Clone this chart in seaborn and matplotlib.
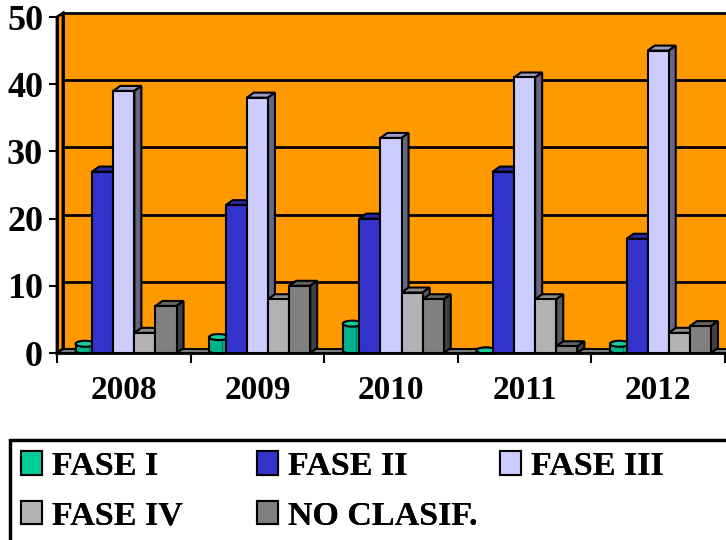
import numpy as np
import pandas as pd
import matplotlib
matplotlib.use("Agg")
import matplotlib.pyplot as plt
import seaborn as sns
from matplotlib.patches import Rectangle, Polygon, Ellipse, Patch
from matplotlib import transforms as mtransforms
from matplotlib.lines import Line2D

# ---- data ----
years = ["2008", "2009", "2010", "2011", "2012"]
phases = ["FASE I", "FASE II", "FASE III", "FASE IV", "NO CLASIF."]
fase_i = [1, 2, 4, 0, 1]
fase_ii = [27, 22, 20, 27, 17]
fase_iii = [39, 38, 32, 41, 45]
fase_iv = [3, 8, 9, 8, 3]
no_clasif = [7, 10, 8, 1, 4]
y_ticks = [0, 10, 20, 30, 40, 50]

front_colors = ["#00B38A", "#3333CC", "#CCCCFF", "#B2B2B2", "#808080"]
top_colors = ["#19CC9C", "#2A2AA8", "#9C9CC4", "#8C8C8C", "#646464"]
side_colors = ["#007A5C", "#1C1C80", "#666680", "#5A5A5A", "#404040"]
legend_colors = ["#00CC99", "#3333CC", "#CCCCFF", "#B2B2B2", "#808080"]
WALL = "#FF9900"

series = [fase_i, fase_ii, fase_iii, fase_iv, no_clasif]
df = pd.DataFrame({
    "year": [y for _ in phases for y in years],
    "phase": [p for p in phases for _ in years],
    "value": [v for s in series for v in s],
})

sns.set_theme(style="white")
plt.rcParams["font.family"] = ["Liberation Serif", "DejaVu Serif"]
plt.rcParams["font.weight"] = "bold"
plt.rcParams["text.color"] = "black"
plt.rcParams["xtick.color"] = "black"
plt.rcParams["ytick.color"] = "black"
plt.rcParams["xtick.labelcolor"] = "black"
plt.rcParams["ytick.labelcolor"] = "black"

W, H = 726, 540
fig = plt.figure(figsize=(W / 100, H / 100), dpi=100)
fig.patch.set_facecolor("white")
ax = fig.add_axes([57 / W, 187 / H, 668 / W, 336 / H])
ax.set_facecolor("none")

sns.barplot(data=df, x="year", y="value", hue="phase", order=years,
            hue_order=phases, palette=dict(zip(phases, front_colors)),
            width=0.79, saturation=1, edgecolor="black", linewidth=1.5,
            legend=False, errorbar=None, ax=ax)
bars = list(ax.patches)

ax.set_xlim(-0.5, 4.5)
ax.set_ylim(0, 50)
ax.set_yticks(y_ticks)
ax.set_yticklabels([str(t) for t in y_ticks], fontsize=26, fontweight="bold",
                   color="black")
ax.set_xticks(range(len(years)))
ax.set_xticklabels(years, fontsize=24, fontweight="bold", color="black")
ax.set_xticks(np.arange(-0.5, 5.0, 1.0), minor=True)
ax.tick_params(axis="x", which="major", length=0, pad=16)
ax.tick_params(axis="x", which="minor", length=7, width=1.5, color="black", bottom=True)
ax.tick_params(axis="y", length=6, width=1.5, color="black", pad=4, left=True)
ax.set_xlabel("")
ax.set_ylabel("")
for s in ["top", "right"]:
    ax.spines[s].set_visible(False)
for s in ["left", "bottom"]:
    ax.spines[s].set_color("black")
    ax.spines[s].set_linewidth(2)
    ax.spines[s].set_zorder(50)

# depth offsets in pixels
DX, DY = 7, 5      # bar depth
WX, WY = 6, 4      # wall depth
ident = mtransforms.IdentityTransform()


def shifted(dx, dy):
    return ax.transData + mtransforms.Affine2D().translate(dx, dy)


T = ax.transData.transform

# back wall with gridlines
ax.add_patch(Rectangle((-0.5, 0), 5.5, 50, transform=shifted(WX, WY),
                       facecolor=WALL, edgecolor="black", lw=2,
                       clip_on=False, zorder=0.2))
for t in y_ticks[1:-1]:
    ax.add_line(Line2D([-0.5, 5.0], [t, t], transform=shifted(WX, WY),
                       color="black", lw=2, clip_on=False, zorder=0.3))

# left side wall
fb, ft = T((-0.5, 0)), T((-0.5, 50))
side = [fb, fb + [WX, WY], ft + [WX, WY], ft]
ax.add_patch(Polygon(side, closed=True, transform=ident, facecolor=WALL,
                     edgecolor="black", lw=2, clip_on=False, zorder=0.4))

# floor
fr = T((5.0, 0))
floor = [fb, fr, fr + [WX, WY], fb + [WX, WY]]
ax.add_patch(Polygon(floor, closed=True, transform=ident, facecolor="#808080",
                     edgecolor="black", lw=1.5, clip_on=False, zorder=0.5))

# 3D faces for every bar
slot = 0.79 / len(phases)
order = sorted(range(len(bars)), key=lambda i: bars[i].get_x())
for rank, i in enumerate(order):
    p = bars[i]
    cx = p.get_x() + p.get_width() / 2
    k = int(round((cx - round(cx)) / slot + 2))
    z = 2 + rank * 0.1
    (x0, y0), (x1, y1) = T((p.get_x(), 0)), T((p.get_x() + p.get_width(), p.get_height()))
    if k == 0:
        # cylinder
        p.set_visible(False)
        ccx = (x0 + x1) / 2 + DX / 2
        base, top = y0 + DY / 2, y1 + DY / 2
        wc = (x1 - x0) * 0.9
        eh = 6
        ax.add_patch(Ellipse((ccx, base), wc, eh, transform=ident,
                             facecolor=front_colors[0], edgecolor="black",
                             lw=1.5, zorder=z, clip_on=False))
        if top > base:
            ax.add_patch(Rectangle((ccx - wc / 2, base), wc, top - base,
                                   transform=ident, facecolor=front_colors[0],
                                   edgecolor="none", zorder=z + 0.01, clip_on=False))
            for xe in (ccx - wc / 2, ccx + wc / 2):
                ax.add_line(Line2D([xe, xe], [base, top], transform=ident,
                                   color="black", lw=1.5, zorder=z + 0.02))
            ax.add_line(Line2D([ccx + wc * 0.2] * 2, [base - eh / 2, top - eh / 2],
                               transform=ident, color="#007A5C", lw=1,
                               zorder=z + 0.02))
        ax.add_patch(Ellipse((ccx, top), wc, eh, transform=ident,
                             facecolor=top_colors[0], edgecolor="black",
                             lw=1.5, zorder=z + 0.03, clip_on=False))
        continue
    p.set_zorder(z + 0.02)
    topf = [(x0, y1), (x1, y1), (x1 + DX, y1 + DY), (x0 + DX, y1 + DY)]
    sidef = [(x1, y0), (x1 + DX, y0 + DY), (x1 + DX, y1 + DY), (x1, y1)]
    ax.add_patch(Polygon(topf, closed=True, transform=ident,
                         facecolor=top_colors[k], edgecolor="black", lw=1.5,
                         zorder=z + 0.01, clip_on=False))
    ax.add_patch(Polygon(sidef, closed=True, transform=ident,
                         facecolor=side_colors[k], edgecolor="black", lw=1.5,
                         zorder=z + 0.01, clip_on=False))

# legend frame
fig.add_artist(Rectangle((10 / W, -0.1), 1.0, (540 - 440) / H + 0.1,
                         transform=fig.transFigure, fill=False,
                         edgecolor="black", lw=2.5))

handles = [Patch(facecolor=c, edgecolor="black", lw=1.5) for c in legend_colors]
columns = [([0, 3], 21), ([1, 4], 257), ([2], 500)]
for idx, xpos in columns:
    leg = fig.legend([handles[i] for i in idx], [phases[i] for i in idx],
                     loc="upper left", bbox_to_anchor=(xpos / W, 1 - 451 / H),
                     bbox_transform=fig.transFigure, frameon=False,
                     borderpad=0, borderaxespad=0, handlelength=0.62,
                     handleheight=0.68, handletextpad=0.28, labelspacing=0.55,
                     labelcolor="black",
                     prop={"family": "Liberation Serif", "weight": "bold",
                           "size": 24.5})
    fig.add_artist(leg)

fig.savefig("out.png", dpi=100, facecolor="white")
